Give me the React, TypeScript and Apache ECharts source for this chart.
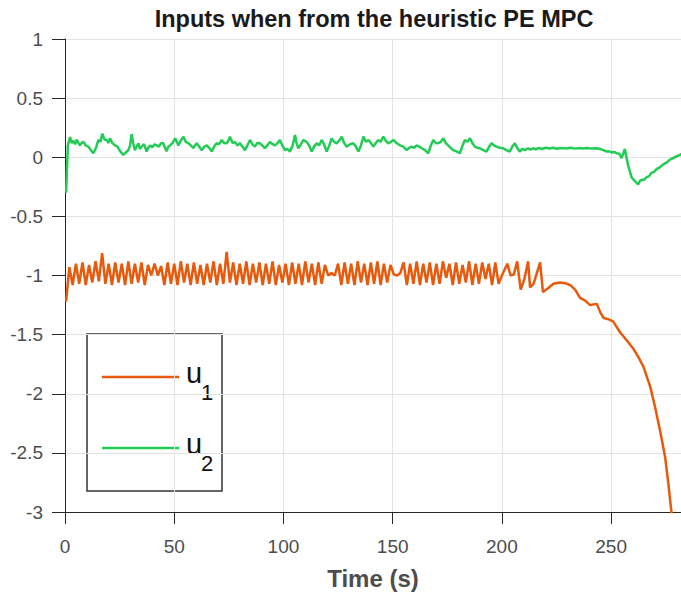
import React, { useEffect, useRef } from "react";
import * as echarts from "echarts";

const TITLE = "Inputs when from the heuristic PE MPC";
const X_NAME = "Time (s)";
const X_TICKS = [0, 50, 100, 150, 200, 250];
const X_MIN = 0;
const X_MAX = 282;
const Y_MIN = -3;
const Y_MAX = 1;
const Y_STEP = 0.5;

// u1: regular oscillating part, sampled from t = U1_T0 with step U1_DT
const U1_T0 = 0.5;
const U1_DT = 1.5;
const U1_OSC = [
  -1.22, -0.93, -1.08, -0.9, -1.07, -0.89, -1.08, -0.91, -1.06, -0.88,
  -1.05, -0.81, -1.07, -0.9, -1.08, -0.89, -1.06, -0.9, -1.08, -0.88,
  -1.07, -0.9, -1.06, -0.89, -1.08, -0.91, -1.0, -0.9, -1.0, -0.92,
  -1.08, -0.89, -1.07, -0.9, -1.08, -0.88, -1.06, -0.9, -1.08, -0.89,
  -1.07, -0.91, -1.08, -0.9, -1.06, -0.88, -1.08, -0.9, -1.07, -0.8,
  -1.06, -0.89, -1.08, -0.9, -1.07, -0.88, -1.08, -0.9, -1.06, -0.89,
  -1.08, -0.9, -1.07, -0.88, -1.08, -0.91, -1.06, -0.9, -1.08, -0.89,
  -1.07, -0.9, -1.08, -0.88, -1.06, -0.9, -1.08, -0.89, -1.07, -0.91,
  -1.0, -0.98, -1.0, -0.9, -1.08, -0.89, -1.07, -0.9, -1.08, -0.88,
  -1.06, -0.9, -1.08, -0.89, -1.07, -0.88, -1.08, -0.9, -1.06, -0.91,
  -0.99, -1.0, -0.98, -0.89, -1.08, -0.9, -1.07, -0.88, -1.08, -0.9,
  -1.06, -0.89, -1.08, -0.9, -1.07, -0.88, -1.02, -0.9, -1.08, -0.89,
  -1.07, -0.91, -1.06, -0.88, -1.08, -0.9, -1.07, -0.89, -1.03, -0.9,
  -1.08, -0.89, -1.07, -1.0,
];
// u1: sparse spikes and the final drop, as [time, value]
const U1_TAIL = [
  [202.5, -0.9], [204, -1.0], [205.5, -0.99], [207, -0.88], [208.6, -1.12],
  [210.3, -1.03], [212, -0.88], [212.9, -1.1], [214.5, -1.07], [217.5, -0.89],
  [218.8, -1.14], [221, -1.11], [223.6, -1.07], [226.6, -1.06], [229, -1.065],
  [231.2, -1.08], [233.5, -1.12], [235.8, -1.19], [238, -1.21], [240.4, -1.25],
  [243.5, -1.24], [245, -1.31], [246.6, -1.36], [248.8, -1.37], [251, -1.39],
  [254.1, -1.48], [257.2, -1.55], [260.2, -1.62], [262.5, -1.69], [264.8, -1.77],
  [267.9, -1.94], [270.1, -2.11], [272.4, -2.31], [274.7, -2.53], [276.2, -2.76],
  [277.5, -2.98], [278, -3.06],
];

// u2 as [time, value]
const U2 = [
  [0.5, -0.3], [1.3, 0.1], [2.3, 0.17], [3.1, 0.12], [3.8, 0.14], [4.6, 0.11], [5.3, 0.15],
  [6.1, 0.12], [6.9, 0.1], [7.6, 0.12], [8.4, 0.13], [9.5, 0.1], [10.7, 0.09], [11.8, 0.06],
  [13, 0.034], [14.2, 0.08], [15.3, 0.146], [16.2, 0.13], [17.1, 0.2], [18.1, 0.15],
  [19.1, 0.146], [19.8, 0.12], [20.6, 0.16], [21.7, 0.12], [22.9, 0.1], [24, 0.09],
  [25.3, 0.05], [26.7, 0.02], [27.8, 0.04], [29, 0.06], [29.8, 0.1], [30.5, 0.196],
  [31.2, 0.12], [32, 0.06], [32.8, 0.09], [33.6, 0.118], [34.3, 0.07], [35.1, 0.09],
  [36.2, 0.11], [37.4, 0.048], [38.1, 0.08], [38.9, 0.1], [40, 0.085], [41, 0.11],
  [42, 0.1], [43, 0.09], [44, 0.12], [45, 0.118], [45.8, 0.08], [46.5, 0.05], [47.3, 0.09],
  [48.1, 0.1], [49.2, 0.12], [50.4, 0.16], [51.2, 0.13], [51.9, 0.1], [53, 0.14],
  [54.2, 0.174], [55.3, 0.13], [56.5, 0.118], [57.6, 0.1], [58.8, 0.076], [59.5, 0.1],
  [60.3, 0.118], [61.4, 0.09], [62.6, 0.06], [63.8, 0.09], [64.9, 0.1], [66, 0.08],
  [67.2, 0.048], [68.3, 0.09], [69.4, 0.118], [70.6, 0.11], [71.7, 0.146], [72.8, 0.12],
  [74, 0.118], [74.8, 0.14], [75.5, 0.174], [76.7, 0.12], [77.8, 0.13], [79, 0.1],
  [80.1, 0.118], [81.2, 0.09], [82.4, 0.06], [83.5, 0.1], [84.7, 0.146], [85.8, 0.11],
  [86.9, 0.09], [88, 0.12], [89.2, 0.118], [90.3, 0.1], [91.5, 0.076], [92.6, 0.1],
  [93.8, 0.13], [95, 0.11], [96.1, 0.1], [97.3, 0.12], [98.4, 0.146], [99.5, 0.1],
  [100.7, 0.06], [101.8, 0.07], [103, 0.048], [104.2, 0.1], [105.3, 0.188], [106, 0.12],
  [106.8, 0.076], [108, 0.11], [109.1, 0.146], [110.6, 0.13], [111.8, 0.1], [112.9, 0.048],
  [114, 0.09], [115.2, 0.118], [116.3, 0.1], [117.5, 0.146], [118.6, 0.11], [119.8, 0.048],
  [121, 0.1], [122.1, 0.16], [123.2, 0.13], [124.4, 0.118], [125.5, 0.14], [126.7, 0.174],
  [127.8, 0.12], [128.9, 0.09], [130.5, 0.11], [132, 0.118], [133.2, 0.09], [134.3, 0.048],
  [135.5, 0.1], [136.6, 0.174], [137.8, 0.13], [138.9, 0.146], [140, 0.12], [141.2, 0.09],
  [142.3, 0.12], [143.4, 0.146], [144.5, 0.13], [145.7, 0.174], [146.8, 0.14], [148, 0.118],
  [149.2, 0.13], [150.3, 0.146], [151.8, 0.12], [153.4, 0.1], [154.9, 0.09], [156.4, 0.06],
  [157.5, 0.08], [158.7, 0.09], [159.8, 0.08], [161, 0.1], [162.2, 0.09], [163.3, 0.076],
  [164.8, 0.06], [166.3, 0.034], [167.5, 0.1], [168.6, 0.146], [169.8, 0.12], [170.9, 0.118],
  [172, 0.13], [173.2, 0.16], [174.3, 0.12], [175.4, 0.1], [176.5, 0.08], [177.7, 0.06],
  [179.2, 0.05], [180.8, 0.034], [182, 0.1], [183.1, 0.146], [184.2, 0.13], [185.4, 0.16],
  [186.5, 0.12], [187.6, 0.09], [188.8, 0.08], [189.9, 0.076], [191.5, 0.06], [193, 0.048],
  [194.2, 0.09], [195.3, 0.118], [196.4, 0.1], [197.5, 0.09], [199, 0.08], [200.6, 0.076],
  [202, 0.06], [203.6, 0.048], [204.8, 0.09], [205.9, 0.118], [207, 0.08], [208.2, 0.048],
  [209.3, 0.07], [210.5, 0.06], [212, 0.075], [213, 0.065], [214.3, 0.076], [215.5, 0.068],
  [217, 0.078], [218.5, 0.07], [220, 0.08], [221.9, 0.074], [223.5, 0.08], [225, 0.072],
  [227, 0.079], [229.6, 0.074], [231.5, 0.08], [233.5, 0.073], [235.5, 0.078], [237.2, 0.074],
  [239, 0.079], [241, 0.073], [243.3, 0.076], [245, 0.07], [246.5, 0.06], [247.9, 0.048],
  [249, 0.05], [250.5, 0.04], [251.5, 0.045], [252.5, 0.034], [253.7, 0.03], [254.8, -0.008],
  [256.3, 0.07], [257.8, -0.07], [259.4, -0.17], [260.8, -0.2], [262.4, -0.23], [263.2, -0.2],
  [264, -0.19], [265.2, -0.19], [266.2, -0.17], [267.4, -0.16], [268.5, -0.13], [269.6, -0.125],
  [270.8, -0.1], [272.3, -0.085], [273.9, -0.06], [275.4, -0.045], [276.9, -0.02],
  [279.2, 0.0], [281.5, 0.02], [282.5, 0.03],
];

const C_U1 = "#e8590c";
const C_U2 = "#22cc55";
const AXIS_C = "#262626";
const LABEL_C = "#4d4d4d";
const GRID_C = "#e3e3e3";
const FONT = "'Liberation Sans', Arial, Helvetica, sans-serif";

export default function App() {
  const ref = useRef<HTMLDivElement>(null);
  useEffect(() => {
    document.body.style.margin = "0";
    if (!ref.current) return;
    const chart = echarts.init(ref.current, null, { renderer: "svg" });
    const u1Data = [
      ...U1_OSC.map((v, i) => [U1_T0 + i * U1_DT, v]),
      ...U1_TAIL,
    ];
    chart.setOption({
      animation: false,
      textStyle: { fontFamily: FONT },
      grid: { left: 65, right: 0, top: 39, bottom: 85, containLabel: false },
      xAxis: {
        type: "value",
        min: X_MIN,
        max: X_MAX,
        interval: 50,
        name: X_NAME,
        nameLocation: "middle",
        nameGap: 54,
        nameTextStyle: { fontSize: 24, fontWeight: "bold", color: LABEL_C, fontFamily: FONT },
        axisLine: { show: true, onZero: false, lineStyle: { color: AXIS_C, width: 1 } },
        axisTick: { show: true, inside: false, length: 12, customValues: X_TICKS, lineStyle: { color: AXIS_C, width: 1 } },
        axisLabel: { fontSize: 19, color: LABEL_C, margin: 25, customValues: X_TICKS, fontFamily: FONT },
        splitLine: { show: true, lineStyle: { color: GRID_C, width: 1 } },
      },
      yAxis: {
        type: "value",
        min: Y_MIN,
        max: Y_MAX,
        interval: Y_STEP,
        axisLine: { show: true, onZero: false, lineStyle: { color: AXIS_C, width: 1 } },
        axisTick: { show: true, inside: false, length: 13, lineStyle: { color: AXIS_C, width: 1 } },
        axisLabel: { fontSize: 19, color: LABEL_C, margin: 22, fontFamily: FONT },
        splitLine: { show: true, lineStyle: { color: GRID_C, width: 1 } },
      },
      series: [
        {
          name: "u1",
          type: "line",
          data: u1Data,
          showSymbol: false,
          symbol: "none",
          lineStyle: { color: C_U1, width: 2.5 },
          itemStyle: { color: C_U1 },
          z: 3,
        },
        {
          name: "u2",
          type: "line",
          data: U2,
          showSymbol: false,
          symbol: "none",
          lineStyle: { color: C_U2, width: 2.5 },
          itemStyle: { color: C_U2 },
          z: 3,
        },
      ],
      graphic: [
        {
          type: "text",
          x: 374,
          y: 19,
          style: {
            text: TITLE,
            align: "center",
            verticalAlign: "middle",
            fontSize: 23.5,
            fontWeight: "bold",
            fill: "#1a1a1a",
            fontFamily: FONT,
          },
        },
        {
          type: "group",
          z: 10,
          children: [
            {
              type: "rect",
              shape: { x: 87, y: 334, width: 135, height: 157 },
              style: { fill: "#ffffff", stroke: "#333333", lineWidth: 1.5 },
            },
            {
              type: "line",
              shape: { x1: 102, y1: 377, x2: 179, y2: 377 },
              style: { stroke: C_U1, lineWidth: 2.5 },
            },
            {
              type: "line",
              shape: { x1: 102, y1: 448, x2: 179, y2: 448 },
              style: { stroke: C_U2, lineWidth: 2.5 },
            },
            {
              type: "text",
              x: 186,
              y: 373,
              style: { text: "u", fontSize: 29, verticalAlign: "middle", fill: "#111", fontFamily: FONT },
            },
            {
              type: "text",
              x: 201,
              y: 392,
              style: { text: "1", fontSize: 22, verticalAlign: "middle", fill: "#111", fontFamily: FONT },
            },
            {
              type: "text",
              x: 186,
              y: 444,
              style: { text: "u", fontSize: 29, verticalAlign: "middle", fill: "#111", fontFamily: FONT },
            },
            {
              type: "text",
              x: 201,
              y: 463,
              style: { text: "2", fontSize: 22, verticalAlign: "middle", fill: "#111", fontFamily: FONT },
            },
          ],
        },
      ],
    });
    return () => chart.dispose();
  }, []);
  return <div ref={ref} style={{ width: 681, height: 597 }} />;
}
